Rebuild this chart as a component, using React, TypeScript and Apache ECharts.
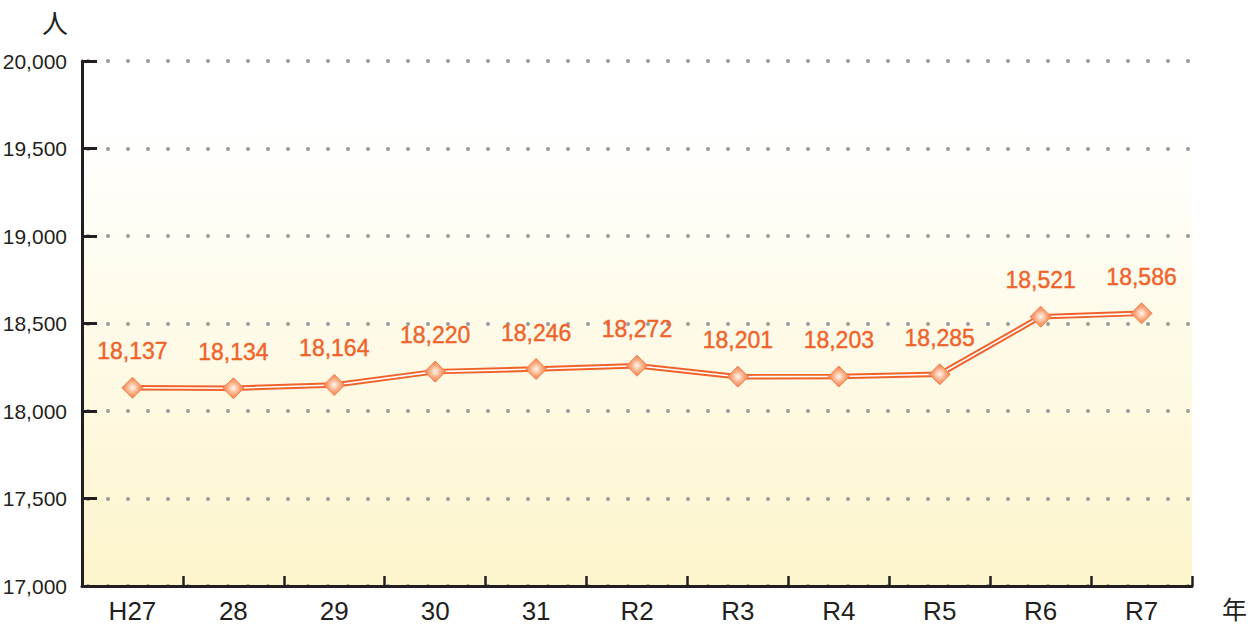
import React, { useEffect, useRef } from "react";
import * as echarts from "echarts";

const categories = ["H27", "28", "29", "30", "31", "R2", "R3", "R4", "R5", "R6", "R7"];
// plotted positions
const plotted = [18133, 18130, 18149, 18225, 18240, 18259, 18196, 18197, 18210, 18539, 18558];
// printed data labels
const labelValues = [18137, 18134, 18164, 18220, 18246, 18272, 18201, 18203, 18285, 18521, 18586];
const yTicks = { min: 17000, max: 20000, interval: 500 };

const ORANGE = "#f0622a";
const TEXT = "#231f20";
const NUM_FONT = "'Liberation Sans', Arial, sans-serif";

export default function App() {
  const ref = useRef<HTMLDivElement>(null);
  useEffect(() => {
    const chart = echarts.init(ref.current!, undefined, { renderer: "svg" });
    const fmt = (v: number) => v.toLocaleString("en-US");
    chart.setOption({
      animation: false,
      grid: {
        left: 82,
        right: 58,
        top: 61,
        bottom: 39,
        outerBoundsMode: "none",
        containLabel: false,
        show: true,
        borderWidth: 0,
        backgroundColor: new echarts.graphic.LinearGradient(0, 0, 0, 1, [
          { offset: 0, color: "#ffffff" },
          { offset: 0.12, color: "#ffffff" },
          { offset: 1, color: "#fdf5cc" },
        ]),
      },
      xAxis: {
        type: "category",
        data: categories,
        boundaryGap: true,
        axisLine: { lineStyle: { color: TEXT, width: 3 } },
        axisTick: { show: true, inside: true, length: 10, lineStyle: { color: TEXT, width: 2.5 } },
        axisLabel: { color: TEXT, fontSize: 26, fontFamily: NUM_FONT, margin: 12 },
        splitLine: { show: false },
      },
      yAxis: {
        type: "value",
        min: yTicks.min,
        max: yTicks.max,
        interval: yTicks.interval,
        axisLine: { show: true, lineStyle: { color: TEXT, width: 3 } },
        axisTick: { show: true, inside: true, length: 15, lineStyle: { color: TEXT, width: 3 } },
        axisLabel: { color: TEXT, fontSize: 21, fontFamily: NUM_FONT, margin: 15, formatter: (v: number) => fmt(v) },
        splitLine: {
          show: true,
          lineStyle: { color: "#9a9a9a", width: 4, type: [0, 20], dashOffset: 14, cap: "round" },
        },
      },
      series: [
        {
          type: "line",
          data: plotted,
          symbol: "none",
          lineStyle: { color: ORANGE, width: 5.5 },
          z: 2,
        },
        {
          type: "line",
          data: plotted,
          symbol: "diamond",
          symbolSize: 21,
          lineStyle: { color: "#ffffff", width: 1.6 },
          itemStyle: {
            color: new echarts.graphic.RadialGradient(0.5, 0.5, 0.6, [
              { offset: 0, color: "#fff6ee" },
              { offset: 0.5, color: "#f9a77a" },
              { offset: 1, color: "#f2693a" },
            ]),
            borderColor: "#f58050",
            borderWidth: 1,
          },
          label: {
            show: true,
            position: "top",
            distance: 14,
            color: ORANGE,
            fontSize: 23,
            fontFamily: NUM_FONT,
            textBorderColor: ORANGE,
            textBorderWidth: 0.4,
            formatter: (p: any) => fmt(labelValues[p.dataIndex]),
          },
          z: 3,
        },
      ],
      graphic: [
        {
          type: "text",
          left: 42,
          top: 8,
          style: { text: "人", fontSize: 26, fill: TEXT, fontFamily: "'Noto Sans CJK JP', sans-serif" },
        },
        {
          type: "text",
          left: 1222,
          top: 595,
          style: { text: "年", fontSize: 25, fill: TEXT, fontFamily: "'Noto Sans CJK JP', sans-serif" },
        },
      ],
    });
    return () => chart.dispose();
  }, []);
  return <div ref={ref} style={{ width: 1250, height: 625, position: "absolute", left: 0, top: 0 }} />;
}
